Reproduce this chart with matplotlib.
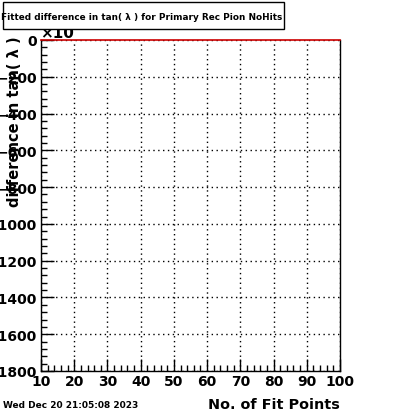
import matplotlib
matplotlib.use("Agg")
import matplotlib.pyplot as plt
from matplotlib.ticker import MultipleLocator, FuncFormatter
import numpy as np

title = "Fitted difference in tan( \u03bb ) for Primary Rec Pion NoHits"
xlabel = "No. of Fit Points"
ylabel = "difference in tan( \u03bb )"
date_text = "Wed Dec 20 21:05:08 2023"
x_range = [10, 100]
y_range = [-1800, 0]
hist_x = [10, 100]
hist_y = [0, 0]

W, H = 400, 414
fig = plt.figure(figsize=(W / 100, H / 100), dpi=100)
ax = fig.add_axes([41 / W, 1 - 372 / H, (340 - 41) / W, (372 - 41) / H])
ax.set_xlim(*x_range)
ax.set_ylim(*y_range)

ax.plot(hist_x, hist_y, color="#cc0000", lw=1.2, clip_on=False, zorder=5)

ax.xaxis.set_major_locator(MultipleLocator(10))
ax.xaxis.set_minor_locator(MultipleLocator(2))
ax.yaxis.set_major_locator(MultipleLocator(200))
ax.yaxis.set_minor_locator(MultipleLocator(40))
ax.yaxis.set_major_formatter(FuncFormatter(lambda v, p: f"{int(round(v))}".replace("-", "\u2212")))
ax.grid(True, which="major", color="black", linestyle=(0, (1, 2.5)), lw=1)
ax.tick_params(which="major", direction="in", length=9, width=1, labelsize=10, pad=1)
ax.tick_params(which="minor", direction="in", length=4.5, width=1)
ax.tick_params(axis="y", pad=3)
ax.tick_params(axis="x", pad=2)
for lab in ax.get_xticklabels() + ax.get_yticklabels():
    lab.set_fontweight("bold")
ax.spines["top"].set_visible(False)
for s in ["left", "right", "bottom"]:
    ax.spines[s].set_linewidth(1)

fig.text(40 / W, 1 - 33 / H, "\u00d710", fontsize=11, fontweight="bold", ha="left", va="center")

# title box
fig.patches.append(plt.Rectangle((3 / W, 1 - 30 / H), (284 - 3) / W, 27 / H,
                                 transform=fig.transFigure, fill=True, facecolor="white",
                                 edgecolor="black", lw=1, zorder=10))
fig.text(142 / W, 1 - 17 / H, title, fontsize=6.4, fontweight="bold", ha="center", va="center", zorder=11)

fig.text(15 / W, 1 - 122 / H, ylabel, rotation=90, fontsize=10.5, fontweight="bold", ha="center", va="center")
fig.text(340 / W, 1 - 405 / H, xlabel, fontsize=10.4, fontweight="bold", ha="right", va="center")
fig.text(3 / W, 1 - 406 / H, date_text, fontsize=6.5, fontweight="bold", ha="left", va="center")

fig.savefig("out.png", dpi=100)
